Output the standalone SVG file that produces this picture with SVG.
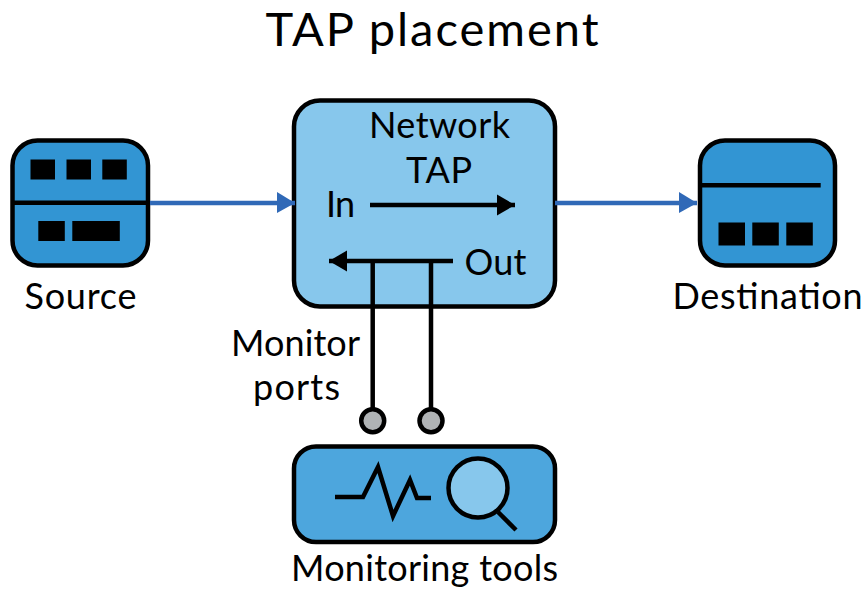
<svg xmlns="http://www.w3.org/2000/svg" width="868" height="600" viewBox="0 0 868 600">
<style>
text{font-family:"Lato","Liberation Sans",sans-serif;font-size:36px;fill:#000;text-anchor:middle}
.title{font-size:47px}
.box{stroke:#000;stroke-width:4.5}
.dev{fill:#3295d3}
.ln{fill:none;stroke:#000;stroke-width:4.5}
.flow{fill:none;stroke:#3069b7;stroke-width:4.5}
.port{fill:#b0b3b5;stroke:#000;stroke-width:4.5}
</style>
<defs>
<marker id="blue" markerUnits="userSpaceOnUse" markerWidth="18" markerHeight="22" refX="18" refY="11" orient="auto"><path d="M0 0L18 11L0 21Z" fill="#3069b7"/></marker>
<marker id="blk" markerUnits="userSpaceOnUse" markerWidth="18" markerHeight="22" refX="18" refY="11" orient="auto"><path d="M0 0.5L18 11L0 21.5Z" fill="#000"/></marker>
</defs>
<text class="title" x="432" y="45" dy="0.500" textLength="333">TAP placement</text>
<g id="source">
<rect class="box dev" x="12.500" y="140.500" width="135.500" height="125" rx="25"/>
<path class="ln" d="M13 202.700H148"/>
<path d="M30.500 159.500h24.500v20h-24.500zM66.500 159.500h24.500v20h-24.500zM102.300 159.500h24.500v20h-24.500zM38.300 221h26.500v20h-26.500zM72.300 221h47.500v20h-47.500z"/>
<text x="80.500" y="308.500" textLength="112">Source</text>
</g>
<g id="network-tap">
<rect class="box" fill="#87c7ec" x="294" y="100.500" width="261" height="206" rx="26"/>
<text x="439.500" y="138" textLength="141">Network</text>
<text x="439" y="183" textLength="66">TAP</text>
<text x="340.500" y="216.500" textLength="29">In</text>
<text x="495.500" y="275" textLength="62">Out</text>
</g>
<g id="destination">
<rect class="box dev" x="700" y="140.500" width="135" height="125" rx="25"/>
<path class="ln" d="M700 185.300H820.700"/>
<path d="M718.500 222.500h26.500v23h-26.500zM752.300 222.500h26.500v23h-26.500zM786.300 222.500h26.500v23h-26.500z"/>
<text x="767.500" y="308.500" textLength="190">Destination</text>
</g>
<g id="monitoring-tools">
<rect class="box" fill="#4da6dd" x="294" y="446.500" width="261" height="95.500" rx="22"/>
<path class="ln" d="M335 497H363L378 467L393 516L410 480L417 498H431"/>
<circle class="box" fill="#87c7ec" cx="478" cy="488" r="29.500"/>
<path class="ln" d="M498 512L516 530"/>
<text x="424.500" y="581" textLength="267">Monitoring tools</text>
</g>
<g id="monitor-label">
<text x="295.500" y="355.500" textLength="129">Monitor</text>
<text x="296.500" y="400" textLength="87">ports</text>
</g>
<g id="connectors">
<path class="flow" d="M150 203H295" marker-end="url(#blue)"/>
<path class="flow" d="M555 203H697" marker-end="url(#blue)"/>
<path class="ln" d="M370 205H515" marker-end="url(#blk)"/>
<path class="ln" d="M453 261H329" marker-end="url(#blk)"/>
<path class="ln" d="M372.700 261V409M431 261V409"/>
<circle class="port" cx="372.700" cy="420.700" r="11.500"/>
<circle class="port" cx="431" cy="420.700" r="11.500"/>
</g>
</svg>
